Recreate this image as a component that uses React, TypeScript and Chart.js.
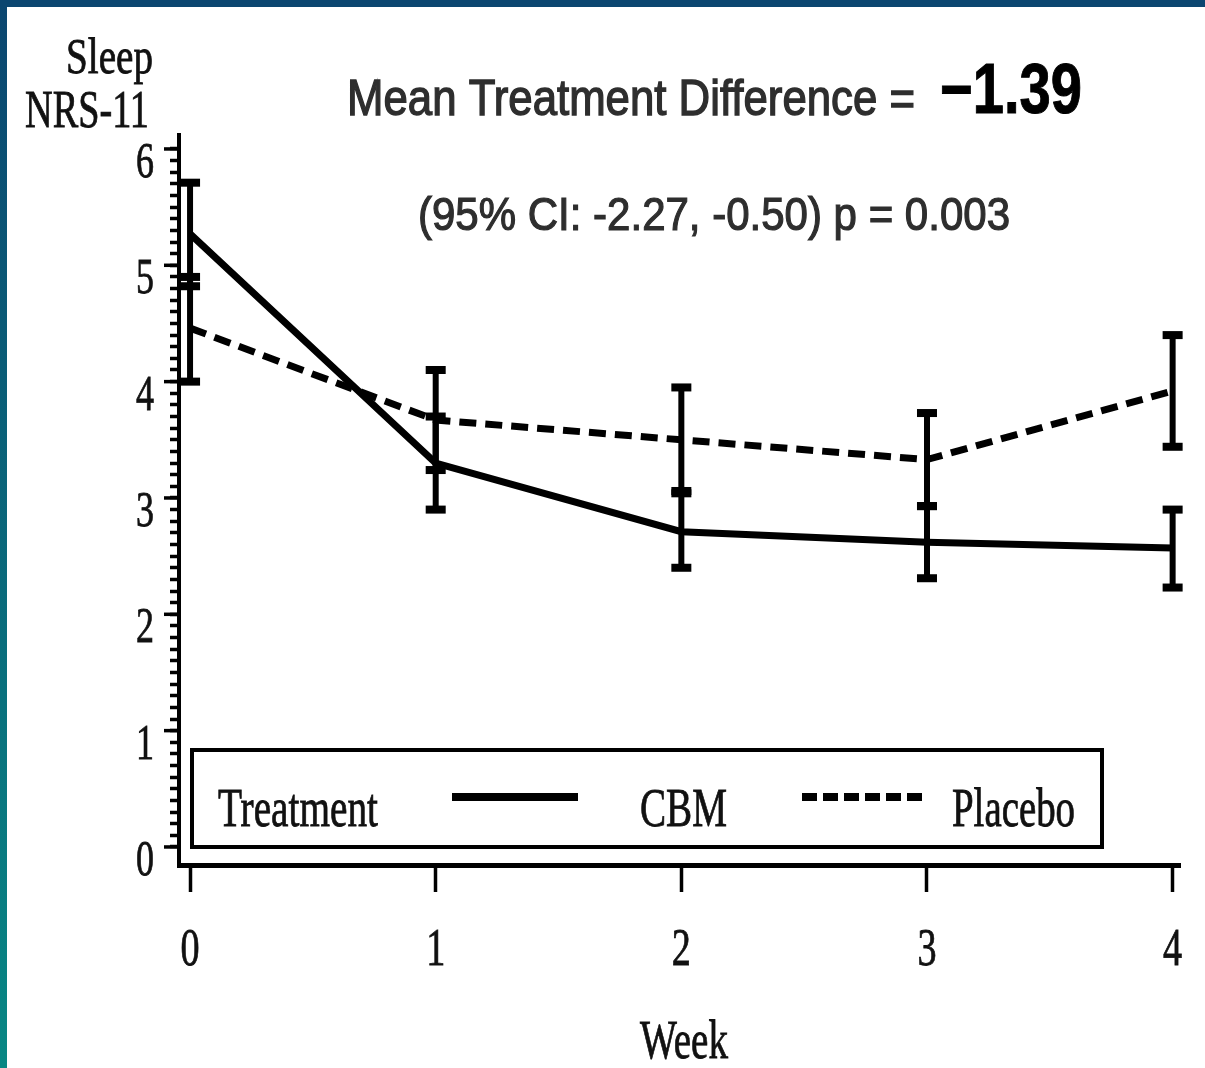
import React, { useEffect, useRef } from "react";
import { Chart, registerables } from "chart.js";

Chart.register(...registerables);

const weeks = [0, 1, 2, 3, 4];
const cbmMean = [5.27, 3.3, 2.71, 2.62, 2.57];
const cbmLower = [4.82, 2.9, 2.4, 2.31, 2.23];
const cbmUpper = [5.71, 3.7, 3.04, 2.93, 2.9];
const placeboMean = [4.46, 3.67, 3.5, 3.33, 3.92];
const placeboLower = [4.0, 3.24, 3.06, 2.93, 3.44];
const placeboUpper = [4.9, 4.1, 3.95, 3.73, 4.4];
const xTickLabels = ["0", "1", "2", "3", "4"];
const yTickValues = [0, 1, 2, 3, 4, 5, 6];
const yTickLabels = ["0", "1", "2", "3", "4", "5", "6"];
const seriesLabels = ["CBM", "Placebo"];
const legendTitle = "Treatment";
const yTitle = ["Sleep", "NRS-11"];
const xTitle = "Week";
const headline = "Mean Treatment Difference =";
const headlineValue = "\u22121.39";
const ciText = "(95% CI: -2.27, -0.50) p = 0.003";

const SERIF = "'Liberation Serif', 'Times New Roman', serif";
const SANS = "'Liberation Sans', Arial, sans-serif";

function fitText(ctx: CanvasRenderingContext2D, text: string, x: number, y: number, font: string, targetW: number, color: string, weight = 0.8, align: CanvasTextAlign = "left") {
  ctx.save();
  ctx.font = font;
  ctx.fillStyle = color;
  ctx.strokeStyle = color;
  ctx.textBaseline = "alphabetic";
  const w = ctx.measureText(text).width;
  const sx = targetW / w;
  ctx.translate(x, y);
  ctx.scale(sx, 1);
  ctx.textAlign = align;
  ctx.fillText(text, 0, 0);
  if (weight > 0) {
    ctx.lineWidth = weight;
    ctx.strokeText(text, 0, 0);
  }
  ctx.restore();
}

function scaledText(ctx: CanvasRenderingContext2D, text: string, x: number, y: number, font: string, sx: number, color: string, align: CanvasTextAlign) {
  ctx.save();
  ctx.font = font;
  ctx.fillStyle = color;
  ctx.strokeStyle = color;
  ctx.textBaseline = "alphabetic";
  ctx.translate(x, y);
  ctx.scale(sx, 1);
  ctx.textAlign = align;
  ctx.fillText(text, 0, 0);
  ctx.lineWidth = 0.8;
  ctx.strokeText(text, 0, 0);
  ctx.restore();
}

const decorPlugin = {
  id: "decor",
  beforeDraw(chart: any) {
    const ctx: CanvasRenderingContext2D = chart.ctx;
    const W = chart.width;
    const H = chart.height;
    ctx.save();
    ctx.fillStyle = "#ffffff";
    ctx.fillRect(0, 0, W, H);
    const g = ctx.createLinearGradient(0, 0, 0, H);
    g.addColorStop(0, "#0b4670");
    g.addColorStop(1, "#088784");
    ctx.fillStyle = g;
    ctx.fillRect(0, 0, 7, H);
    ctx.fillStyle = "#0b4670";
    ctx.fillRect(0, 0, W, 7);
    ctx.restore();
  },
  afterDatasetsDraw(chart: any) {
    const ctx: CanvasRenderingContext2D = chart.ctx;
    const xs = chart.scales.x;
    const ys = chart.scales.y;
    ctx.save();
    ctx.fillStyle = "#000";
    ctx.strokeStyle = "#000";
    const groups = [
      [cbmLower, cbmUpper],
      [placeboLower, placeboUpper],
    ];
    groups.forEach(([lo, hi]) => {
      weeks.forEach((w, i) => {
        const px = xs.getPixelForValue(w);
        const pt = ys.getPixelForValue(hi[i]);
        const pb = ys.getPixelForValue(lo[i]);
        ctx.lineWidth = 6;
        ctx.beginPath();
        ctx.moveTo(px, pt);
        ctx.lineTo(px, pb);
        ctx.stroke();
        ctx.fillRect(px - 10, pt - 4, 20, 8);
        ctx.fillRect(px - 10, pb - 4, 20, 8);
      });
    });
    ctx.restore();
  },
  afterDraw(chart: any) {
    const ctx: CanvasRenderingContext2D = chart.ctx;
    const xs = chart.scales.x;
    const ys = chart.scales.y;
    const area = chart.chartArea;
    ctx.save();
    ctx.strokeStyle = "#000";
    ctx.lineWidth = 3.5;
    yTickValues.forEach((v) => {
      const py = ys.getPixelForValue(v);
      ctx.beginPath();
      ctx.moveTo(area.left - 15, py);
      ctx.lineTo(area.left, py);
      ctx.stroke();
    });
    yTickValues.forEach((v, i) => {
      const py = ys.getPixelForValue(v);
      scaledText(ctx, yTickLabels[i], area.left - 25, py + 28, `50px ${SERIF}`, 0.72, "#111", "right");
    });
    weeks.forEach((w, i) => {
      const px = xs.getPixelForValue(w);
      scaledText(ctx, xTickLabels[i], px, 965, `53px ${SERIF}`, 0.72, "#111", "center");
    });
    fitText(ctx, yTitle[0], 66, 73, `50px ${SERIF}`, 87, "#111");
    fitText(ctx, yTitle[1], 25, 127, `52px ${SERIF}`, 124, "#111");
    fitText(ctx, xTitle, 640, 1058, `54px ${SERIF}`, 88, "#111");
    fitText(ctx, headline, 347, 115, `50px ${SANS}`, 568, "#2e2e2e", 1.4);
    fitText(ctx, headlineValue, 940, 113, `bold 70px ${SANS}`, 142, "#000", 1);
    fitText(ctx, ciText, 418, 230, `46px ${SANS}`, 592, "#2e2e2e", 1.2);
    ctx.lineWidth = 4;
    ctx.strokeStyle = "#000";
    ctx.strokeRect(192, 750, 910, 97);
    fitText(ctx, legendTitle, 218, 826, `54px ${SERIF}`, 160, "#111");
    ctx.strokeStyle = "#000";
    ctx.lineWidth = 8;
    ctx.lineCap = "butt";
    ctx.setLineDash([]);
    ctx.beginPath();
    ctx.moveTo(452, 797);
    ctx.lineTo(578, 797);
    ctx.stroke();
    fitText(ctx, seriesLabels[0], 640, 826, `54px ${SERIF}`, 87, "#111");
    ctx.strokeStyle = "#000";
    ctx.lineWidth = 8;
    ctx.setLineDash([15, 6]);
    ctx.beginPath();
    ctx.moveTo(802, 797);
    ctx.lineTo(928, 797);
    ctx.stroke();
    ctx.setLineDash([]);
    fitText(ctx, seriesLabels[1], 952, 826, `54px ${SERIF}`, 123, "#111");
    ctx.restore();
  },
};

export default function App() {
  const ref = useRef<HTMLCanvasElement | null>(null);
  useEffect(() => {
    if (!ref.current) return;
    const chart = new Chart(ref.current, {
      type: "line",
      data: {
        datasets: [
          {
            label: seriesLabels[0],
            data: weeks.map((w, i) => ({ x: w, y: cbmMean[i] })),
            borderColor: "#000",
            borderWidth: 7,
            pointRadius: 0,
            tension: 0,
          },
          {
            label: seriesLabels[1],
            data: weeks.map((w, i) => ({ x: w, y: placeboMean[i] })),
            borderColor: "#000",
            borderWidth: 7,
            borderDash: [17, 9],
            pointRadius: 0,
            tension: 0,
          },
        ],
      },
      options: {
        responsive: false,
        animation: false,
        devicePixelRatio: 1,
        layout: { padding: { top: 135, right: 25, left: 0, bottom: 0 } },
        plugins: { legend: { display: false }, tooltip: { enabled: false }, title: { display: false } },
        scales: {
          x: {
            type: "linear",
            min: -0.045,
            max: 4.03,
            afterBuildTicks: (s: any) => {
              s.ticks = weeks.map((v) => ({ value: v }));
            },
            afterFit: (s: any) => {
              s.height = 203;
            },
            ticks: { display: false },
            grid: { drawOnChartArea: false, drawTicks: true, tickLength: 27, tickWidth: 3.5, tickColor: "#000", color: "#000" },
            border: { display: true, color: "#000", width: 5 },
          },
          y: {
            type: "linear",
            min: -0.155,
            max: 6.12,
            afterBuildTicks: (s: any) => {
              const t: any[] = [];
              for (let i = 0; i <= 60; i++) t.push({ value: i / 10 });
              s.ticks = t;
            },
            afterFit: (s: any) => {
              s.width = 179;
            },
            ticks: { display: false },
            grid: { drawOnChartArea: false, drawTicks: true, tickLength: 9, tickWidth: 3.5, tickColor: "#000", color: "#000" },
            border: { display: true, color: "#000", width: 4 },
          },
        },
      },
      plugins: [decorPlugin],
    });
    return () => chart.destroy();
  }, []);
  return (
    <div style={{ position: "fixed", left: 0, top: 0, width: 1205, height: 1068, background: "#fff" }}>
      <canvas ref={ref} width={1205} height={1068} style={{ display: "block", width: 1205, height: 1068 }} />
    </div>
  );
}
